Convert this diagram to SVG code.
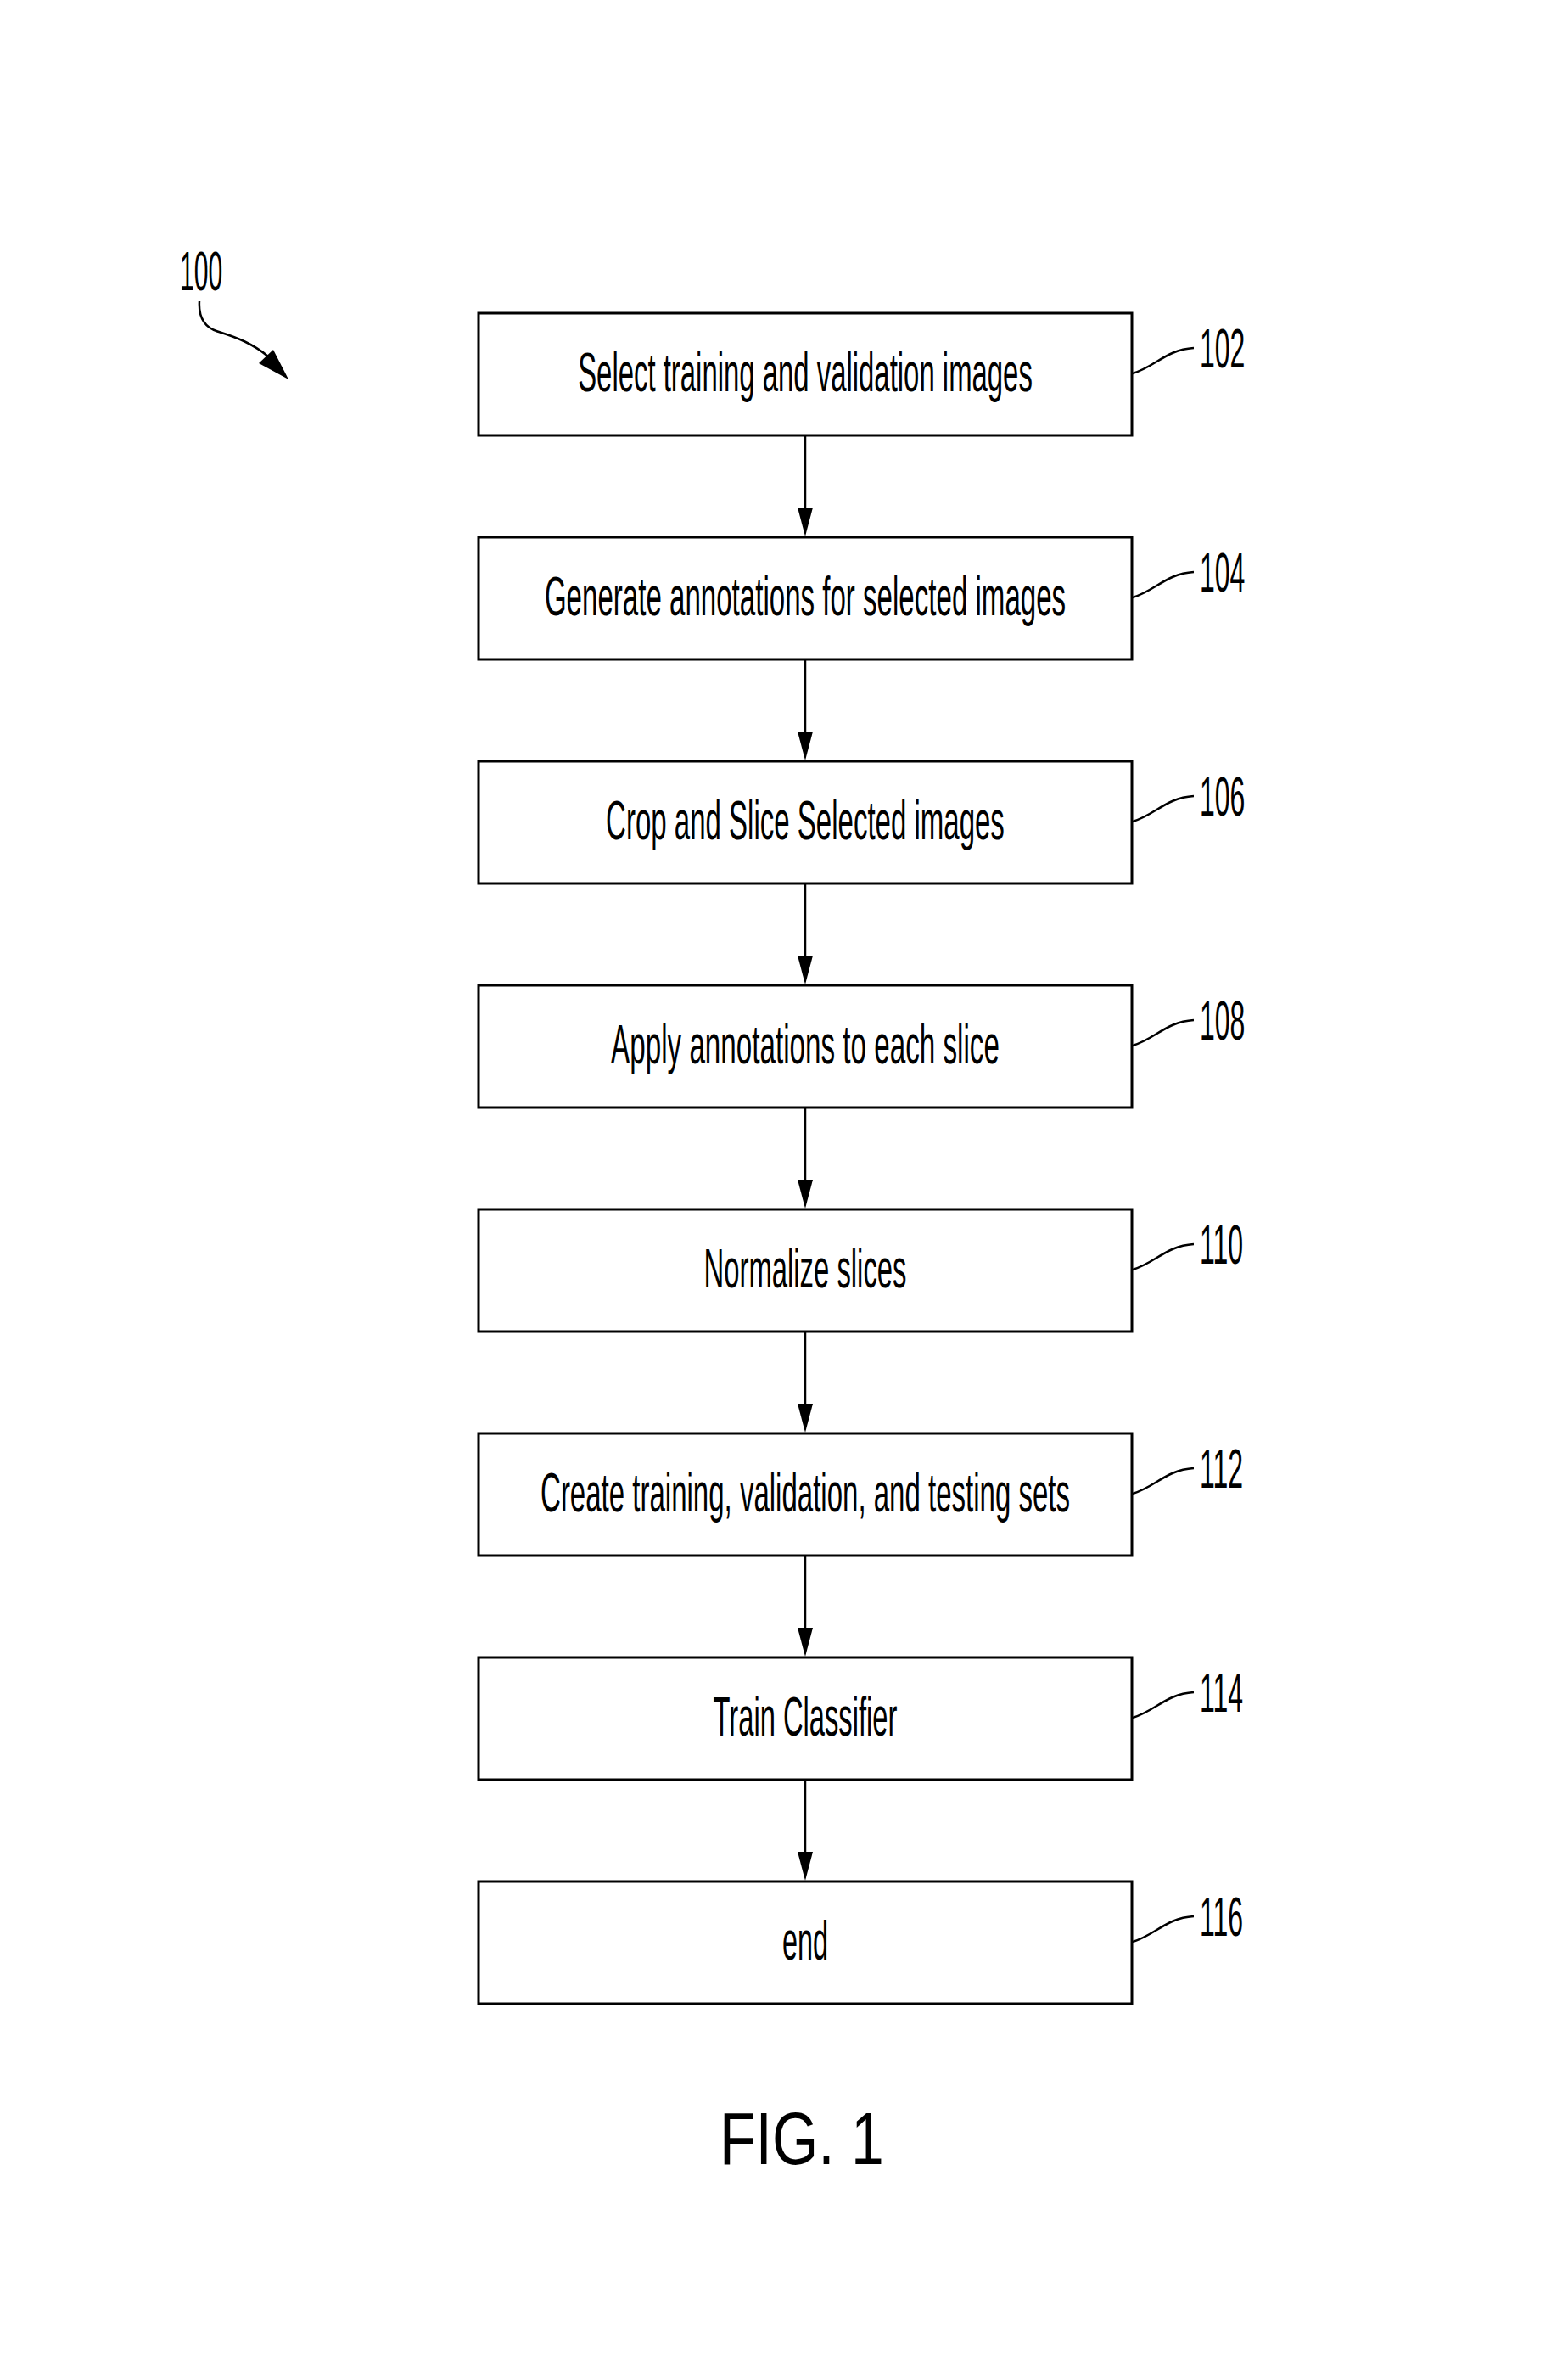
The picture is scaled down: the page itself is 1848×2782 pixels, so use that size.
<svg xmlns="http://www.w3.org/2000/svg" width="1848" height="2782" viewBox="0 0 1848 2782">
<style>
.box{fill:#fff;stroke:#000;stroke-width:3}
.lbl{font-family:"Liberation Sans",Arial,sans-serif;font-size:64px;fill:#000;text-anchor:middle}
.ref{font-family:"Liberation Sans",Arial,sans-serif;font-size:64px;fill:#000}
.lead{fill:none;stroke:#000;stroke-width:2.5}
.conn{stroke:#000;stroke-width:2.5;fill:none}
.head{fill:#000}
</style>
<rect width="1848" height="2782" fill="#fff"/>
<g id="ref100">
<text class="ref" transform="translate(212,342) scale(0.47,1)">100</text>
<path class="lead" d="M235,355 C234,372 240,386 258,391 C280,398 298,405 316,420" stroke-width="3"/>
<polygon class="head" points="340,447 305,428 322,412"/>
</g>
<g id="connectors">
<line class="conn" x1="949" y1="513" x2="949" y2="600"/><polygon class="head" points="949,632 940,598 958,598"/>
<line class="conn" x1="949" y1="777" x2="949" y2="864"/><polygon class="head" points="949,896 940,862 958,862"/>
<line class="conn" x1="949" y1="1041" x2="949" y2="1128"/><polygon class="head" points="949,1160 940,1126 958,1126"/>
<line class="conn" x1="949" y1="1305" x2="949" y2="1392"/><polygon class="head" points="949,1424 940,1390 958,1390"/>
<line class="conn" x1="949" y1="1569" x2="949" y2="1656"/><polygon class="head" points="949,1688 940,1654 958,1654"/>
<line class="conn" x1="949" y1="1833" x2="949" y2="1920"/><polygon class="head" points="949,1952 940,1918 958,1918"/>
<line class="conn" x1="949" y1="2097" x2="949" y2="2184"/><polygon class="head" points="949,2216 940,2182 958,2182"/>
</g>
<g id="n102">
<rect class="box" x="564" y="369" width="770" height="144"/>
<text class="lbl" transform="translate(949,461) scale(0.514,1)">Select training and validation images</text>
<path class="lead" d="M1335,440 C1362,432 1374,412 1407,410"/>
<text class="ref" transform="translate(1414,433) scale(0.5,1)">102</text>
</g>
<g id="n104">
<rect class="box" x="564" y="633" width="770" height="144"/>
<text class="lbl" transform="translate(949,725) scale(0.517,1)">Generate annotations for selected images</text>
<path class="lead" d="M1335,704 C1362,696 1374,676 1407,674"/>
<text class="ref" transform="translate(1414,697) scale(0.5,1)">104</text>
</g>
<g id="n106">
<rect class="box" x="564" y="897" width="770" height="144"/>
<text class="lbl" transform="translate(949,989) scale(0.516,1)">Crop and Slice Selected images</text>
<path class="lead" d="M1335,968 C1362,960 1374,940 1407,938"/>
<text class="ref" transform="translate(1414,961) scale(0.5,1)">106</text>
</g>
<g id="n108">
<rect class="box" x="564" y="1161" width="770" height="144"/>
<text class="lbl" transform="translate(949,1253) scale(0.519,1)">Apply annotations to each slice</text>
<path class="lead" d="M1335,1232 C1362,1224 1374,1204 1407,1202"/>
<text class="ref" transform="translate(1414,1225) scale(0.5,1)">108</text>
</g>
<g id="n110">
<rect class="box" x="564" y="1425" width="770" height="144"/>
<text class="lbl" transform="translate(949,1517) scale(0.513,1)">Normalize slices</text>
<path class="lead" d="M1335,1496 C1362,1488 1374,1468 1407,1466"/>
<text class="ref" transform="translate(1414,1489) scale(0.5,1)">110</text>
</g>
<g id="n112">
<rect class="box" x="564" y="1689" width="770" height="144"/>
<text class="lbl" transform="translate(949,1781) scale(0.516,1)">Create training, validation, and testing sets</text>
<path class="lead" d="M1335,1760 C1362,1752 1374,1732 1407,1730"/>
<text class="ref" transform="translate(1414,1753) scale(0.5,1)">112</text>
</g>
<g id="n114">
<rect class="box" x="564" y="1953" width="770" height="144"/>
<text class="lbl" transform="translate(949,2045) scale(0.511,1)">Train Classifier</text>
<path class="lead" d="M1335,2024 C1362,2016 1374,1996 1407,1994"/>
<text class="ref" transform="translate(1414,2017) scale(0.5,1)">114</text>
</g>
<g id="n116">
<rect class="box" x="564" y="2217" width="770" height="144"/>
<text class="lbl" transform="translate(949,2309) scale(0.506,1)">end</text>
<path class="lead" d="M1335,2288 C1362,2280 1374,2260 1407,2258"/>
<text class="ref" transform="translate(1414,2281) scale(0.5,1)">116</text>
</g>
<g id="caption">
<text transform="translate(848,2550) scale(0.793,1)" font-family="'Liberation Sans',Arial,sans-serif" font-size="88" fill="#000">FIG. 1</text>
</g>
</svg>
